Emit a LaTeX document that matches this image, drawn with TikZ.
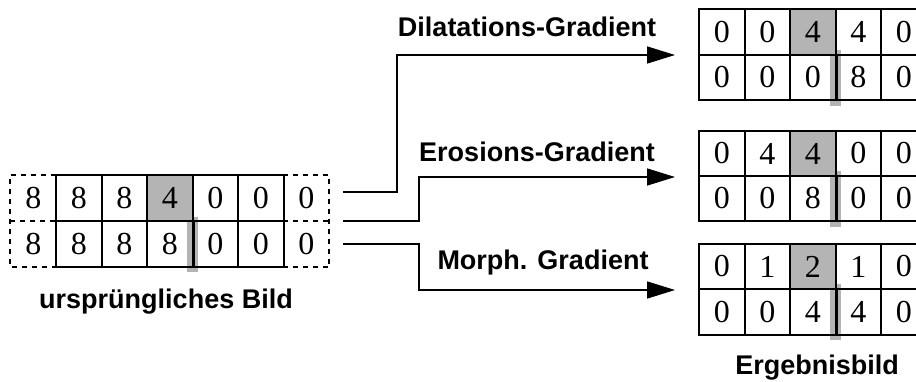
\documentclass[tikz,border=0pt]{standalone}
\usepackage{fontspec}
\setmainfont{Liberation Serif}
\newfontfamily\labelfont{Liberation Sans}
\usetikzlibrary{arrows.meta}
\definecolor{cellgray}{HTML}{B4B4B4}
\tikzset{
  cell/.style={draw, line width=2pt, minimum width=45.5pt, minimum height=45.5pt, inner sep=0pt, font=\fontsize{32}{32}\selectfont},
  ocell/.style={minimum width=45.5pt, minimum height=46pt, inner sep=0pt, font=\fontsize{32}{32}\selectfont},
  hl/.style={fill=cellgray},
  dashline/.style={line width=1.8pt, dash pattern=on 5pt off 5pt},
  bar/.style={fill=cellgray, draw=none},
  conn/.style={line width=1.5pt, -{Triangle[length=28pt,width=17pt]}},
  lab/.style={font=\labelfont\bfseries\fontsize{27}{27}\selectfont, inner sep=0pt}
}
\begin{document}
\begin{tikzpicture}[x=1pt,y=-1pt]
\useasboundingbox (0,0) rectangle (916,381);
\clip (0,0) rectangle (916,381);
% gray bars (drawn first)
\fill[bar] (187,217) rectangle (198,272);
\fill[bar] (830,50) rectangle (841,106);
\fill[bar] (830,171) rectangle (841,227);
\fill[bar] (830,284) rectangle (841,340);
% left grid
\node[ocell] (L10) at (33.25,198) {8};
\node[ocell] (L20) at (33.25,244) {8};
\node[cell,minimum height=46pt] (L11) at (78.75,198) {8};
\node[cell,minimum height=46pt] (L12) at (124.25,198) {8};
\node[cell,minimum height=46pt,hl] (L13) at (169.75,198) {4};
\node[cell,minimum height=46pt] (L14) at (215.25,198) {0};
\node[cell,minimum height=46pt] (L15) at (260.75,198) {0};
\node[cell,minimum height=46pt] (L21) at (78.75,244) {8};
\node[cell,minimum height=46pt] (L22) at (124.25,244) {8};
\node[cell,minimum height=46pt] (L23) at (169.75,244) {8};
\node[cell,minimum height=46pt] (L24) at (215.25,244) {0};
\node[cell,minimum height=46pt] (L25) at (260.75,244) {0};
\node[ocell] (L16) at (306.25,198) {0};
\node[ocell] (L26) at (306.25,244) {0};
\draw[dashline] (L10.north east) -- (L10.north west) -- (L20.south west) -- (L20.south east);
\draw[dashline] (L10.south west) -- (L10.south east);
\draw[dashline] (L16.north west) -- (L16.north east) -- (L26.south east) -- (L26.south west);
\draw[dashline] (L16.south west) -- (L16.south east);
\draw[line width=2pt] (L13.south east) -- (L23.south east);
% right grids
\foreach \g/\ya/\yb/\ra/\rb in {1/32/77.5/{0,0,4,4,0}/{0,0,0,8,0},
                                 2/153.5/198.5/{0,4,4,0,0}/{0,0,8,0,0},
                                 3/266.5/312/{0,1,2,1,0}/{0,0,4,4,0}}{
  \foreach \v [count=\c] in \ra {
    \ifnum\c=3
      \node[cell,hl] (R\g1\c) at ({699+22.75+45.5*(\c-1)},\ya) {\v};
    \else
      \node[cell] (R\g1\c) at ({699+22.75+45.5*(\c-1)},\ya) {\v};
    \fi
  }
  \foreach \v [count=\c] in \rb {
    \node[cell] (R\g2\c) at ({699+22.75+45.5*(\c-1)},\yb) {\v};
  }
  \draw[line width=2pt] (R\g13.south east) -- (R\g23.south east);
}
% connectors
\coordinate (s1) at (343,192);
\coordinate (s2) at (343,221);
\coordinate (s3) at (343,244);
\coordinate (t1) at (675,55);
\coordinate (t2) at (675,177);
\coordinate (t3) at (675,290);
\draw[conn] (s1) -- (397,192) -- (397,55) -- (t1);
\draw[conn] (s2) -- (419,221) -- (419,177) -- (t2);
\draw[conn] (s3) -- (419,244) -- (419,290) -- (t3);
% labels
\node[lab] (d) at (527,27) {Dilatations-Gradient};
\node[lab] (e) at (537,152) {Erosions-Gradient};
\node[lab] (m) at (543,263) {Morph. Gradient};
\node[lab] (u) at (166,302) {ursprüngliches Bild};
\node[lab] (r) at (817,368) {Ergebnisbild};
\end{tikzpicture}
\end{document}
